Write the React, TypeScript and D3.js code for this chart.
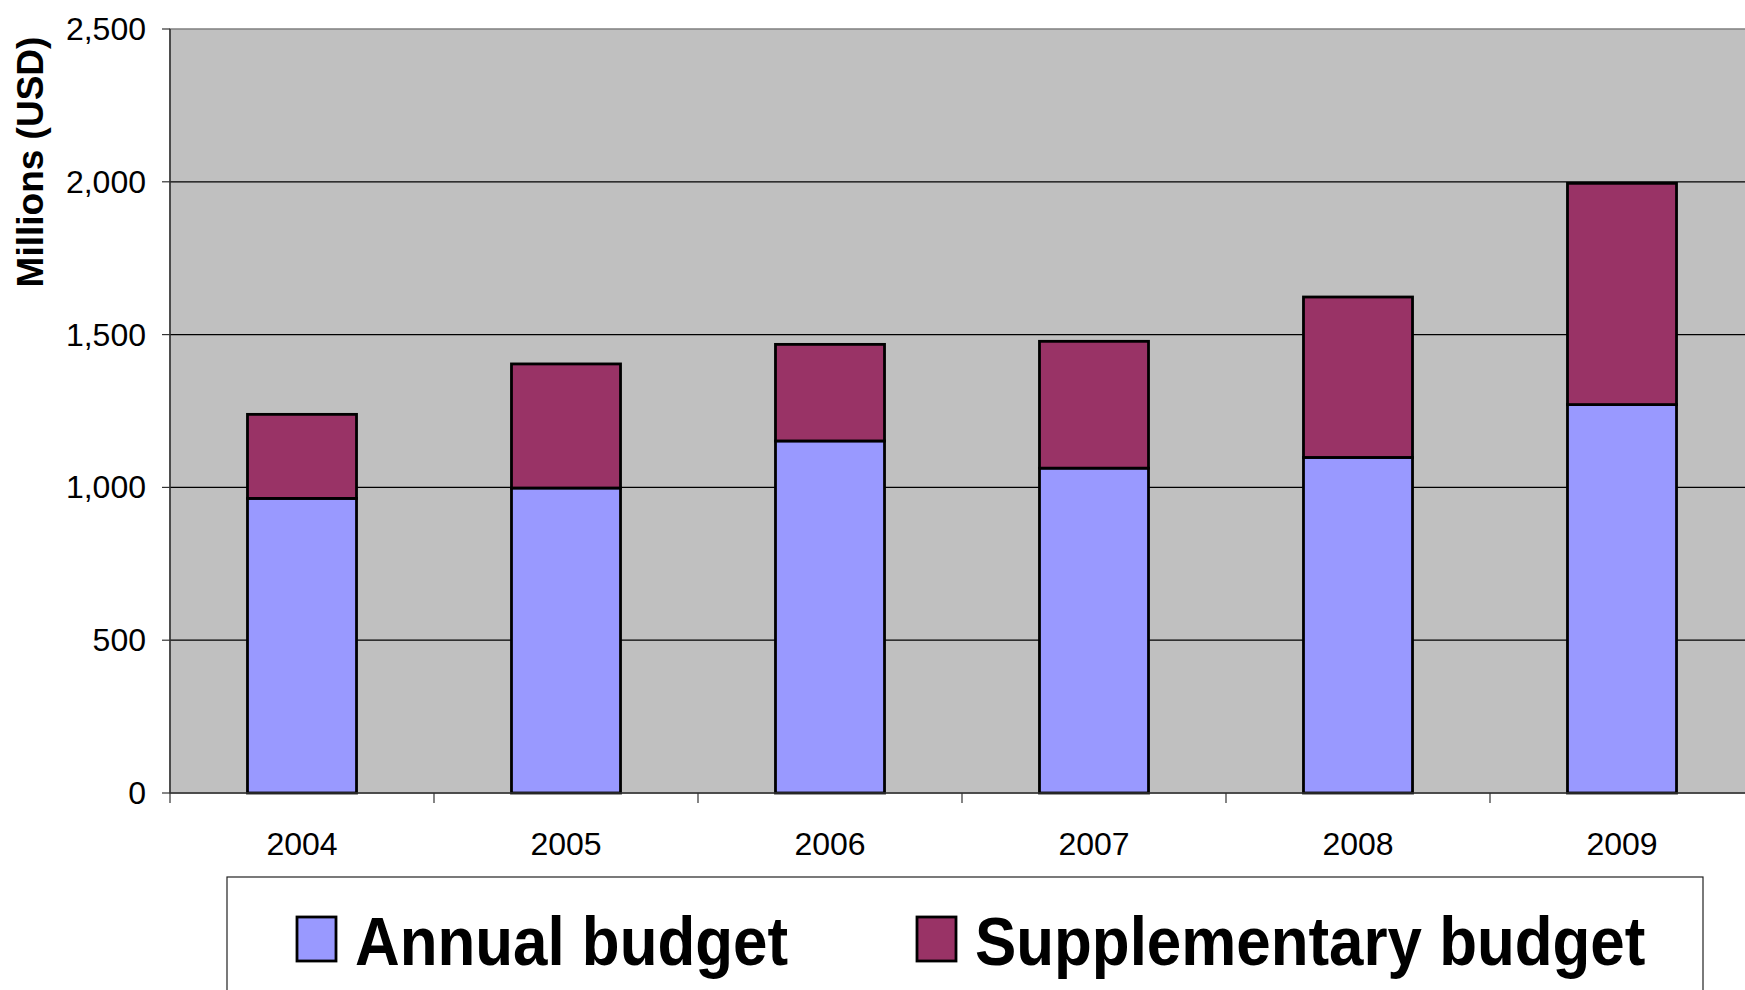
import React from 'react';
import * as d3 from 'd3';

const years = ['2004', '2005', '2006', '2007', '2008', '2009'];
const annualBudget = [964, 998, 1152, 1063, 1098, 1271];
const supplementaryBudget = [275, 406, 316, 415, 525, 724];
const yTicks = [0, 500, 1000, 1500, 2000, 2500];
const seriesNames = ['Annual budget', 'Supplementary budget'];
const seriesColors = ['#9999FF', '#993366'];

const W = 1745;
const H = 990;
const plot = { left: 170, right: 1754, top: 29, bottom: 793 };
const font = '"Liberation Sans", Arial, sans-serif';

export default function App() {
  const x = d3
    .scaleBand<string>()
    .domain(years)
    .range([plot.left, plot.right])
    .paddingInner(0.587)
    .paddingOuter(0.2935);
  const step = x.step();

  const y = d3.scaleLinear().domain([0, 2500]).range([plot.bottom, plot.top]);
  const fmt = d3.format(',');

  const stacked = d3
    .stack<number>()
    .keys(['0', '1'])
    .value((i, key) => (key === '0' ? annualBudget[i] : supplementaryBudget[i]))(
    years.map((_, i) => i)
  );

  return (
    <svg
      width={W}
      height={H}
      style={{ position: 'absolute', left: 0, top: 0, background: '#fff' }}
      fontFamily={font}
    >
      <defs>
        <clipPath id="page">
          <rect x={0} y={0} width={W} height={H} />
        </clipPath>
      </defs>
      <g clipPath="url(#page)">
        {/* plot area */}
        <rect
          x={plot.left}
          y={plot.top}
          width={plot.right - plot.left + 20}
          height={plot.bottom - plot.top}
          fill="#C0C0C0"
          stroke="#808080"
          strokeWidth={1.5}
        />
        {yTicks
          .filter((t) => t > 0 && t < 2500)
          .map((t) => (
            <line
              key={t}
              x1={plot.left}
              x2={W}
              y1={y(t)}
              y2={y(t)}
              stroke="#000"
              strokeWidth={1.2}
            />
          ))}

        {/* bars */}
        {stacked.map((layer, si) =>
          layer.map((d, i) => (
            <rect
              key={`${si}-${i}`}
              x={x(years[i])}
              y={y(d[1])}
              width={x.bandwidth()}
              height={y(d[0]) - y(d[1])}
              fill={seriesColors[si]}
              stroke="#000"
              strokeWidth={2.8}
            />
          ))
        )}

        {/* axes */}
        <line x1={plot.left} x2={plot.left} y1={plot.top} y2={plot.bottom} stroke="#333" strokeWidth={1.5} />
        <line x1={plot.left} x2={W} y1={plot.bottom} y2={plot.bottom} stroke="#333" strokeWidth={1.5} />
        {yTicks.map((t) => (
          <g key={t}>
            <line x1={plot.left - 8} x2={plot.left} y1={y(t)} y2={y(t)} stroke="#333" strokeWidth={1.2} />
            <text x={146} y={y(t) + 11} textAnchor="end" fontSize={32} fill="#000">
              {fmt(t)}
            </text>
          </g>
        ))}
        {d3.range(years.length + 1).map((i) => (
          <line
            key={i}
            x1={plot.left + i * step}
            x2={plot.left + i * step}
            y1={plot.bottom}
            y2={plot.bottom + 10}
            stroke="#333"
            strokeWidth={1.2}
          />
        ))}
        {years.map((yr) => (
          <text
            key={yr}
            x={(x(yr) as number) + x.bandwidth() / 2}
            y={855}
            textAnchor="middle"
            fontSize={32}
            fill="#000"
          >
            {yr}
          </text>
        ))}

        <text
          transform="translate(43,162) rotate(-90)"
          textAnchor="middle"
          fontSize={37}
          fontWeight="bold"
          fill="#000"
        >
          Millions (USD)
        </text>

        {/* legend */}
        <rect x={227} y={877} width={1703 - 227} height={200} fill="#fff" stroke="#222" strokeWidth={1.2} />
        {seriesNames.map((name, i) => {
          const sx = i === 0 ? 297 : 917;
          return (
            <g key={name}>
              <rect x={sx} y={917} width={39} height={44} fill={seriesColors[i]} stroke="#000" strokeWidth={2.8} />
              <text
                transform={`translate(${sx + 58},965) scale(0.91,1)`}
                fontSize={68}
                fontWeight="bold"
                fill="#000"
              >
                {name}
              </text>
            </g>
          );
        })}
      </g>
    </svg>
  );
}
